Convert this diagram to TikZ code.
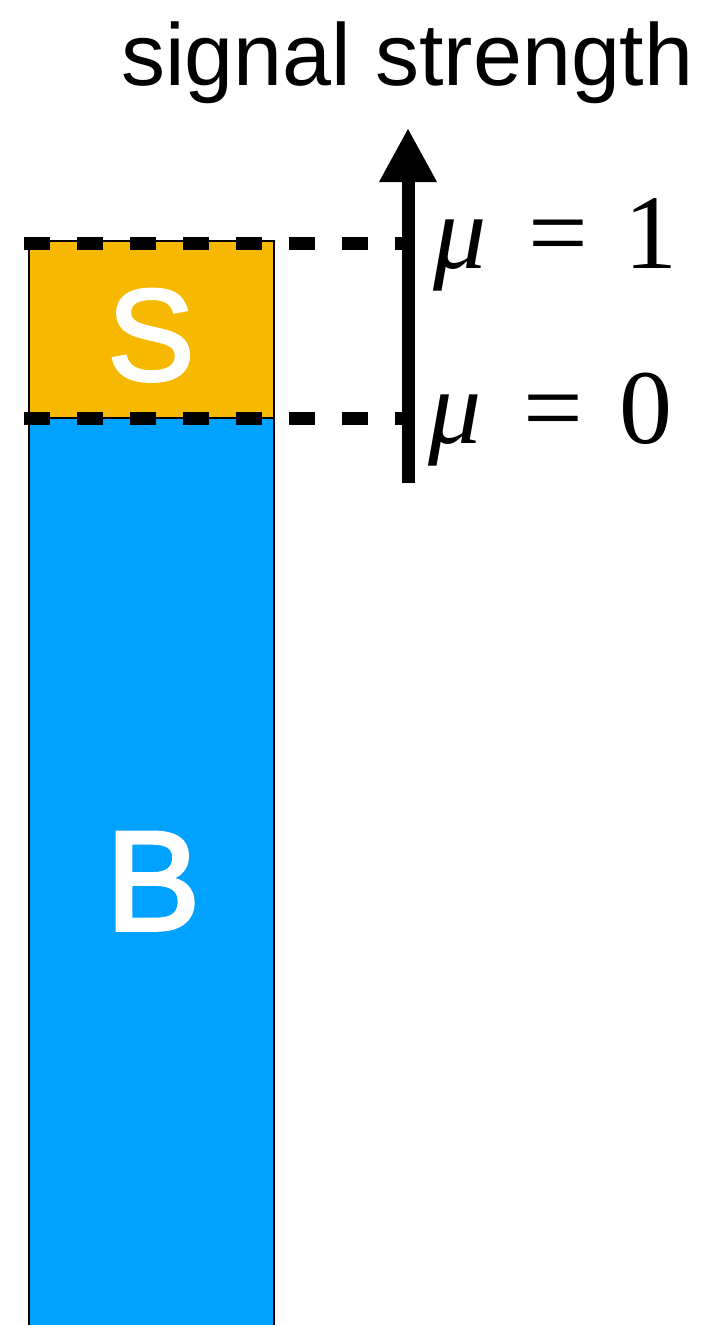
\documentclass[tikz,border=0pt]{standalone}
\usepackage{fontspec}
\usetikzlibrary{arrows.meta}
\newfontfamily\helv{Liberation Sans}
\newfontfamily\helvmed[FakeBold=2.5]{Liberation Sans}
\newfontfamily\tms{Liberation Serif}
\definecolor{sigorange}{RGB}{247,185,0}
\definecolor{bkgblue}{RGB}{0,162,255}
\tikzset{
  boxstyle/.style={draw=black, line width=2pt},
  letterstyle/.style={text=white, inner sep=0pt, anchor=base},
  levelline/.style={line width=13pt, dash pattern=on 26pt off 27pt, line cap=butt},
  axisline/.style={line width=13pt, -{Triangle[length=54pt,width=54pt]}},
  mulabel/.style={inner sep=0pt, anchor=base west, font=\tms\fontsize{106}{110}\selectfont}
}
\begin{document}
\begin{tikzpicture}[x=1pt,y=-1pt]
\useasboundingbox (0,0) rectangle (708,1325);
% boxes
\fill[bkgblue] (29,418) rectangle (274,1335);
\draw[boxstyle] (29,1335) -- (29,418) -- (274,418) -- (274,1335);
\draw[boxstyle, fill=sigorange] (29,241) rectangle (274,418);
\node[letterstyle, font=\helvmed\fontsize{130}{130}\selectfont] (sletter) at (151,380) {S};
\node[letterstyle, font=\helvmed\fontsize{142}{142}\selectfont] (bletter) at (153,930) {B};
% axis
\coordinate (axbot) at (408,483);
\coordinate (axtop) at (408,128);
\coordinate (mu1) at (408,243);
\coordinate (mu0) at (408,418);
\coordinate (l1) at (24,243);
\coordinate (l0) at (24,418);
\draw[levelline] (l1) -- (mu1);
\draw[levelline] (l0) -- (mu0);
\draw[axisline] (axbot) -- (axtop);
% labels
\node[inner sep=0pt, anchor=base west, font=\helv\fontsize{88}{90}\selectfont] (title) at (121,85) {signal strength};
\node[mulabel] (lab1) at (420,268) {\makebox[80pt][c]{\itshape μ}\makebox[116pt][c]{=}\makebox[70pt][c]{1}};
\node[mulabel] (lab0) at (415,443) {\makebox[80pt][c]{\itshape μ}\makebox[117pt][c]{=}\makebox[67pt][c]{0}};
\end{tikzpicture}
\end{document}
